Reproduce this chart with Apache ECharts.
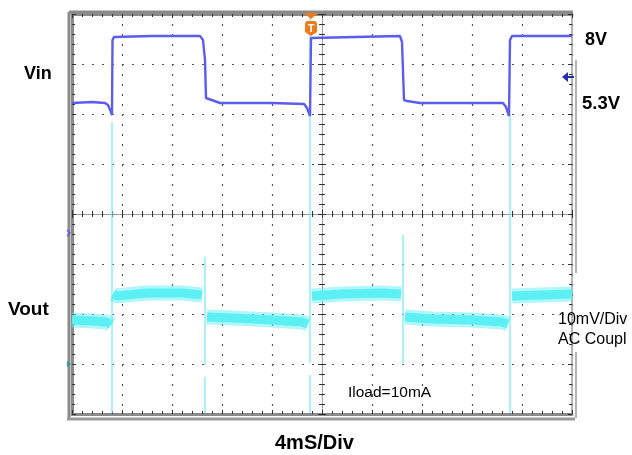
<!DOCTYPE html>
<html>
<head>
<meta charset="utf-8">
<script src="https://cdn.jsdelivr.net/npm/echarts@6/dist/echarts.min.js"></script>
<style>
html,body{margin:0;padding:0;background:#fff;}
#chart{width:632px;height:455px;}
</style>
</head>
<body>
<div id="chart"></div>
<script>
// Time axis in divisions (4 ms/div, 10 divs); vertical axis in divisions (8 divs)
const xRange = [0, 10];
const yRange = [0, 8];

// Vin trace (blue) [div, div]
const vinData = [[0,6.22],[0.4,6.24],[0.66,6.22],[0.72,6.18],[0.78,6.04],[0.8,5.98],[0.81,7.48],[0.84,7.54],[1.6,7.56],[2.56,7.56],[2.62,7.48],[2.66,7.08],[2.68,6.32],[2.72,6.28],[2.96,6.22],[4.0,6.22],[4.64,6.2],[4.7,6.12],[4.76,5.96],[4.78,7.52],[4.82,7.56],[6.56,7.56],[6.6,7.44],[6.64,6.28],[6.7,6.26],[6.96,6.22],[8.62,6.22],[8.68,6.14],[8.74,5.96],[8.76,7.48],[8.8,7.56],[10,7.56]];

// Vout trace (cyan band), segments separated at edges
const voutData = [[0,1.88],[0.4,1.86],[0.7,1.84],[0.78,1.78],null,[0.82,2.4],[0.9,2.36],[1.5,2.42],[2.2,2.42],[2.6,2.38],null,[2.7,1.94],[3.2,1.92],[4.0,1.88],[4.6,1.84],[4.72,1.8],null,[4.8,2.36],[5.4,2.4],[6.2,2.42],[6.58,2.4],null,[6.66,1.94],[7.2,1.9],[8.0,1.88],[8.6,1.84],[8.72,1.8],null,[8.8,2.36],[9.4,2.38],[10,2.4]];

// Vout transient spikes at each edge
const voutSpikes = [[0.8,5.84],[0.8,0.02],null,[2.66,3.14],[2.66,0.98],null,[2.66,0.74],[2.66,0.02],null,[4.76,7.92],[4.76,1.02],null,[4.76,0.78],[4.76,0.02],null,[6.62,3.58],[6.62,1.02],null,[8.76,5.98],[8.76,0.02]];

const triggerX = 4.76;
const refLevel = 6.74; // Vin reference arrow

const labels = {
  vin: 'Vin', vout: 'Vout', hi: '8V', lo: '5.3V',
  scale: '10mV/Div', coupling: 'AC Coupl', load: 'Iload=10mA', time: '4mS/Div'
};

const FONT = '"Liberation Sans", Arial, sans-serif';
const chart = echarts.init(document.getElementById('chart'), null, {renderer: 'canvas'});

function axisBase(extra) {
  const base = {
    type: 'value', gridIndex: 0,
    axisLabel: {show: false}, splitLine: {show: false},
    axisTick: {show: true, inside: true, length: 4, lineStyle: {color: '#333', width: 1}},
    minorTick: {show: true, splitNumber: 5, length: 3, lineStyle: {color: '#333', width: 1}}
  };
  const o = Object.assign(base, extra);
  o.axisLine = Object.assign({onZero: false}, JSON.parse(JSON.stringify(o.axisLine || {show: false})));
  o.axisLine.onZero = false;
  return o;
}
const borderLine = {show: true, lineStyle: {color: '#8a8a8a', width: 3}};
const crossLine = {show: true, lineStyle: {color: '#888', width: 1, type: [1, 1]}};
const gridDots = {show: true, lineStyle: {color: '#555', width: 1.2, type: [2, 8]}};

const option = {
  animation: false,
  backgroundColor: '#fff',
  grid: {left: 72, top: 14, width: 500, height: 400, outerBoundsMode: 'none'},
  xAxis: [
    axisBase({min: xRange[0], max: xRange[1], interval: 1, position: 'bottom', axisLine: borderLine, splitLine: gridDots}),
    axisBase({min: xRange[0], max: xRange[1], interval: 1, position: 'top', axisLine: borderLine}),
    axisBase({min: xRange[0], max: xRange[1], interval: 1, position: 'bottom', offset: -200, axisLine: crossLine}),
    axisBase({min: xRange[0], max: xRange[1], interval: 1, position: 'bottom', offset: -200, axisLine: {show: false},
      axisTick: {show: true, inside: false, length: 4, lineStyle: {color: '#333'}}})
  ],
  yAxis: [
    axisBase({min: yRange[0], max: yRange[1], interval: 1, position: 'left', axisLine: borderLine, splitLine: gridDots}),
    axisBase({min: yRange[0], max: yRange[1], interval: 1, position: 'right', axisLine: {show: true, lineStyle: {color: '#9a9a9a', width: 1.5}}}),
    axisBase({min: yRange[0], max: yRange[1], interval: 1, position: 'left', offset: -250, axisLine: crossLine}),
    axisBase({min: yRange[0], max: yRange[1], interval: 1, position: 'left', offset: -250, axisLine: {show: false},
      axisTick: {show: true, inside: false, length: 4, lineStyle: {color: '#333'}}})
  ],
  series: [
    {name: 'Vout spikes', type: 'line', data: voutSpikes, symbol: 'none', connectNulls: false, z: 3,
      lineStyle: {color: 'rgba(110,235,245,0.75)', width: 1.6}},
    {name: 'Vout band', type: 'line', data: voutData, symbol: 'none', connectNulls: false, z: 4,
      lineStyle: {color: 'rgba(95,240,245,0.5)', width: 15, cap: 'butt'}},
    {name: 'Vout', type: 'line', data: voutData, symbol: 'none', connectNulls: false, z: 5,
      lineStyle: {color: '#5cf0f4', width: 9, cap: 'butt'}},
    {name: 'Vin', type: 'line', data: vinData, symbol: 'none', z: 6,
      lineStyle: {color: '#5c5cef', width: 2.4}}
  ]
};
chart.setOption(option);

const p00 = chart.convertToPixel({xAxisIndex: 0, yAxisIndex: 0}, [xRange[0], yRange[0]]);
const p11 = chart.convertToPixel({xAxisIndex: 0, yAxisIndex: 0}, [xRange[1], yRange[1]]);
const trig = chart.convertToPixel({xAxisIndex: 0, yAxisIndex: 0}, [triggerX, yRange[1]]);
const ref = chart.convertToPixel({xAxisIndex: 0, yAxisIndex: 0}, [xRange[1], refLevel]);
const tx = trig[0] + 1, ty = trig[1];
const rx = ref[0], ry = ref[1];
const L = p00[0], B = p00[1], R = p11[0], T = p11[1];

function txt(t, x, y, size, bold) {
  return {type: 'text', silent: true, z: 20,
    style: {text: t, x: x, y: y, fill: '#000', font: (bold ? 'bold ' : '') + size + 'px ' + FONT, align: 'left', verticalAlign: 'middle'}};
}

chart.setOption({
  graphic: [
    // scope frame (gray)
    {type: 'line', z: 0, shape: {x1: L - 3, y1: T - 2, x2: L - 3, y2: B + 5}, style: {stroke: '#8a8a8a', lineWidth: 3}},
    {type: 'line', z: 0, shape: {x1: L - 5, y1: B + 5, x2: R + 3, y2: B + 5}, style: {stroke: '#9a9a9a', lineWidth: 3}},
    {type: 'line', z: 0, shape: {x1: L - 3, y1: T - 2, x2: R + 1, y2: T - 2}, style: {stroke: '#8a8a8a', lineWidth: 3}},
    txt(labels.vin, 24, 74, 18, true),
    txt(labels.vout, 8, 309.5, 19, true),
    txt(labels.hi, 585, 40, 18, true),
    txt(labels.lo, 582, 104, 18.5, true),
    txt(labels.scale, 558, 319.5, 16, false),
    txt(labels.coupling, 558, 339.5, 16, false),
    txt(labels.load, 348, 393, 15.5, false),
    txt(labels.time, 275, 443, 20, true),
    // trigger marker
    {type: 'polygon', z: 21, shape: {points: [[tx - 7, ty - 1], [tx + 7, ty - 1], [tx, ty + 5]]}, style: {fill: '#f07a18'}},
    {type: 'polygon', z: 21, shape: {points: [[tx - 6, ty + 9], [tx - 4, ty + 7], [tx + 4, ty + 7], [tx + 6, ty + 9], [tx + 6, ty + 18], [tx, ty + 22], [tx - 6, ty + 18]]}, style: {fill: '#f07a18'}},
    {type: 'text', z: 22, style: {text: 'T', x: tx, y: ty + 14.5, fill: '#fff', font: 'bold 11px ' + FONT, align: 'center', verticalAlign: 'middle'}},
    // reference arrow at right
    {type: 'polygon', z: 21, shape: {points: [[rx - 10, ry], [rx - 4, ry - 5], [rx - 4, ry + 5]]}, style: {fill: '#1f2fb0'}},
    {type: 'line', z: 21, shape: {x1: rx - 5, y1: ry, x2: rx + 2, y2: ry}, style: {stroke: '#1f2fb0', lineWidth: 2}},
    // side bar at right
    {type: 'line', z: 1, shape: {x1: R + 4, y1: 60, x2: R + 4, y2: 273}, style: {stroke: '#9a9a9a', lineWidth: 1.5}},
    {type: 'line', z: 1, shape: {x1: R + 4, y1: 352, x2: R + 4, y2: B + 4}, style: {stroke: '#9a9a9a', lineWidth: 1.5}},
    // small channel markers at left
    {type: 'polyline', z: 21, shape: {points: [[L - 5, 230], [L - 2, 233], [L - 5, 236]]}, style: {stroke: '#5858ee', lineWidth: 1.2, fill: null}},
    {type: 'polygon', z: 21, shape: {points: [[L - 5, 361], [L - 1, 364], [L - 5, 367]]}, style: {fill: '#2a9aa0'}}
  ]
});
</script>
</body>
</html>
